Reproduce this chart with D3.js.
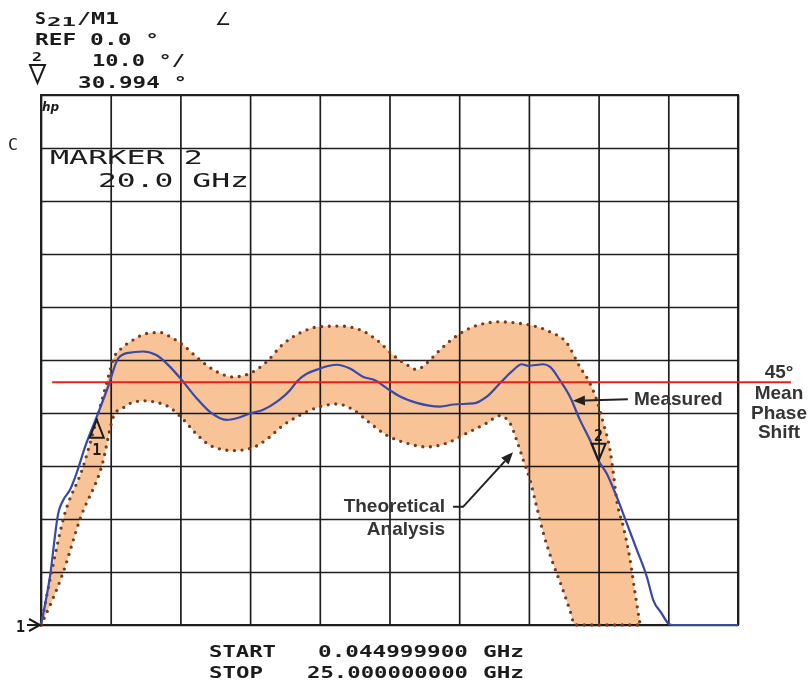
<!DOCTYPE html>
<html>
<head>
<meta charset="utf-8">
<script src="https://cdn.jsdelivr.net/npm/d3@7/dist/d3.min.js"></script>
<style>
  html, body { margin: 0; padding: 0; background: #fff; }
  svg { display: block; }
  .mono { font-family: "DejaVu Sans Mono", monospace; fill: #1c1c1c; }
  .note { font-family: "Liberation Sans", Arial, sans-serif; font-weight: bold; font-size: 19px; fill: #353535; }
</style>
</head>
<body>
<svg id="chart" width="811" height="687"></svg>
<script>
// ---------------- data ----------------
const xGridGHz = [0, 2.5, 5, 7.5, 10, 12.5, 15, 17.5, 20, 22.5, 25];
const yGridDeg = [0, 10, 20, 30, 40, 50, 60, 70, 80, 90, 100];

const measuredGHz = [0, 0.32, 0.62, 0.80, 1.04, 1.28, 1.58, 2.00, 2.41, 2.77,
  3.07, 3.67, 4.15, 4.63, 5.10, 5.58, 6.06, 6.66, 7.02, 7.50,
  7.97, 8.45, 8.93, 9.17, 10.01, 10.61, 11.08, 11.56, 11.98, 12.40,
  12.88, 13.48, 14.31, 14.79, 15.51, 15.99, 16.46, 16.94, 17.24, 17.48,
  18.02, 18.26, 18.61, 18.97, 19.33, 19.69, 20.00, 20.29, 20.65, 21.01,
  21.37, 21.73, 21.96, 22.26, 22.50, 22.63, 25.0];
const measuredDeg = [0, 9.1, 21.1, 23.6, 25.5, 28.7, 33.6, 39.3, 45.0, 50.3,
  51.3, 51.6, 50.9, 48.7, 45.9, 42.8, 40.2, 38.7, 39.0, 39.9,
  40.6, 42.1, 44.3, 45.9, 48.4, 49.1, 48.4, 46.8, 46.2, 44.7,
  43.1, 41.9, 41.2, 41.6, 41.8, 43.1, 45.6, 48.1, 49.2, 48.9,
  49.2, 48.7, 46.2, 43.1, 38.7, 34.9, 31.0, 28.6, 24.2, 19.2,
  14.2, 9.1, 4.7, 2.2, 0.3, 0, 0];

const theoryHighGHz = [0, 0.38, 0.80, 1.52, 2.06, 2.40, 2.62, 2.91, 3.31, 3.79,
  4.27, 4.63, 5.10, 5.70, 6.30, 6.90, 7.50, 8.10, 8.64, 9.29,
  10.01, 10.72, 11.44, 12.04, 12.64, 13.12, 13.48, 13.83, 14.31, 15.03,
  15.75, 16.46, 17.18, 17.54, 18.26, 18.86, 19.33, 19.69, 19.93, 20.17,
  20.41, 20.53, 20.65, 20.89, 21.13, 21.31, 21.49];
const theoryHighDeg = [0, 10, 20, 30, 40, 46.5, 50.5, 52.3, 53.8, 55.0,
  55.2, 54.4, 52.8, 50.0, 47.8, 46.8, 47.5, 49.7, 52.8, 55.1,
  56.3, 56.4, 55.7, 53.8, 50.9, 49.1, 48.2, 49.4, 51.9, 55.0,
  56.7, 57.2, 56.9, 56.6, 55.3, 53.2, 48.7, 45.6, 42.5, 38.1,
  33.0, 28.6, 23.6, 18.5, 12.3, 6.0, 0];

const theoryLowGHz = [0, 0.80, 1.40, 2.18, 2.66, 2.95, 3.19, 3.67, 4.15, 4.63,
  5.10, 5.58, 6.18, 6.90, 7.50, 8.21, 8.57, 9.29, 10.01, 10.61,
  11.20, 11.80, 12.40, 13.12, 13.83, 14.55, 15.27, 15.99, 16.46, 16.82,
  17.06, 17.30, 17.54, 17.78, 18.02, 18.32, 18.68, 18.97, 19.15, 21.49];
const theoryLowDeg = [0, 10, 20, 30, 40, 41.0, 41.8, 42.3, 42.0, 41.0,
  38.8, 36.0, 33.6, 32.9, 33.3, 35.5, 37.2, 39.6, 41.2, 41.7,
  40.6, 38.1, 35.8, 34.3, 33.6, 34.3, 36.2, 38.1, 39.5, 38.1,
  34.9, 31.1, 27.4, 22.3, 17.3, 12.3, 7.2, 2.8, 0, 0];

const meanPhaseDeg = 45.8;
const meanLineGHz = [0.4, 26.9];
const marker1GHz = 2.0;
const marker2GHz = 20.0;

const headerLines = ["REF 0.0 °", "10.0 °/", "30.994 °"];
const markerLines = ["MARKER 2", "20.0 GHz"];
const sweepLabels = ["START", "STOP"];
const sweepValues = ["0.044999900", "25.000000000"];
const sweepUnit = "GHz";
const sideLabel = ["45°", "Mean", "Phase", "Shift"];

// ---------------- drawing ----------------
const svg = d3.select("#chart");
const x = d3.scaleLinear().domain([0, 25]).range([41, 738]);
const y = d3.scaleLinear().domain([0, 100]).range([625, 95]);
const W = x.range()[1] - x.range()[0], Hh = y.range()[0] - y.range()[1];

// grid
const gx = svg.append("g").attr("transform", `translate(0,${y(0)})`)
  .call(d3.axisBottom(x).tickValues(xGridGHz).tickSize(-Hh).tickFormat(""));
const gy = svg.append("g").attr("transform", `translate(${x(0)},0)`)
  .call(d3.axisLeft(y).tickValues(yGridDeg).tickSize(-W).tickFormat(""));
[gx, gy].forEach(g => {
  g.select(".domain").remove();
  g.selectAll(".tick line").attr("stroke", "#1e1e1e").attr("stroke-width", 1.7);
});
svg.append("rect").attr("x", x(0)).attr("y", y(100)).attr("width", W).attr("height", Hh)
  .attr("fill", "none").attr("stroke", "#1e1e1e").attr("stroke-width", 2);

// theoretical band
const hi = theoryHighGHz.map((g, i) => [g, theoryHighDeg[i]]);
const lo = theoryLowGHz.map((g, i) => [g, theoryLowDeg[i]]);
const line = d3.line().x(d => x(d[0])).y(d => y(d[1])).curve(d3.curveMonotoneX);
const hiPath = line(hi);
const loRevPath = line(lo.slice().reverse());
svg.append("path")
  .attr("d", hiPath + "L" + loRevPath.slice(1) + "Z")
  .attr("fill", "#f8c497")
  .style("mix-blend-mode", "multiply");
[hiPath, line(lo)].forEach(p => svg.append("path").attr("d", p)
  .attr("fill", "none").attr("stroke", "#7a3a1c").attr("stroke-width", 3.3)
  .attr("stroke-linecap", "round").attr("stroke-dasharray", "0,7.6"));

// measured
const meas = measuredGHz.map((g, i) => [g, measuredDeg[i]]);
svg.append("path").attr("d", line(meas)).attr("fill", "none")
  .attr("stroke", "#3a48a6").attr("stroke-width", 2.2);

// mean phase line
svg.append("line").attr("x1", x(meanLineGHz[0])).attr("x2", x(meanLineGHz[1]))
  .attr("y1", y(meanPhaseDeg)).attr("y2", y(meanPhaseDeg))
  .attr("stroke", "#e8211c").attr("stroke-width", 2);

// markers
const measAt = g => {
  const i = d3.bisectLeft(measuredGHz, g);
  if (measuredGHz[i] === g) return measuredDeg[i];
  const t = (g - measuredGHz[i - 1]) / (measuredGHz[i] - measuredGHz[i - 1]);
  return measuredDeg[i - 1] + t * (measuredDeg[i] - measuredDeg[i - 1]);
};
const m1x = x(marker1GHz), m1y = y(measAt(marker1GHz)) + 3;
svg.append("path").attr("d", `M${m1x},${m1y} L${m1x + 7},${m1y + 18} L${m1x - 7},${m1y + 18} Z`)
  .attr("fill", "none").attr("stroke", "#1c1c1c").attr("stroke-width", 2);
svg.append("text").attr("class", "mono").attr("x", m1x).attr("y", m1y + 35)
  .attr("text-anchor", "middle").attr("font-size", 15).attr("font-weight", "bold").text("1");
const m2x = x(marker2GHz), m2y = y(measAt(marker2GHz));
svg.append("path").attr("d", `M${m2x},${m2y} L${m2x + 7},${m2y - 17} L${m2x - 7},${m2y - 17} Z`)
  .attr("fill", "none").attr("stroke", "#1c1c1c").attr("stroke-width", 2);
svg.append("text").attr("class", "mono").attr("x", m2x).attr("y", m2y - 20)
  .attr("text-anchor", "middle").attr("font-size", 15).attr("font-weight", "bold").text("2");

// reference marker "1>" at origin
svg.append("text").attr("class", "mono").attr("x", 16).attr("y", 632)
  .attr("font-size", 15).attr("font-weight", "bold").text("1");
svg.append("path").attr("d", `M27,${y(0)} L${x(0) - 1},${y(0)} M29,${y(0) - 6} L${x(0) - 1},${y(0)} L29,${y(0) + 6}`)
  .attr("fill", "none").attr("stroke", "#1c1c1c").attr("stroke-width", 2);

// header text
function monoText(str, px, py, size, len, extra) {
  const t = svg.append("text").attr("class", "mono").attr("x", px).attr("y", py)
    .attr("font-size", size).attr("textLength", len).attr("lengthAdjust", "spacingAndGlyphs").text(str);
  if (extra) t.attr("font-weight", extra);
  return t;
}
monoText("S", 35, 24, 16, 11, "bold");
monoText("21", 47, 26, 13, 29, "bold");
monoText("/M1", 77, 24, 16, 42, "bold");
svg.append("text").attr("x", 215).attr("y", 25).attr("font-family", "DejaVu Sans")
  .attr("font-size", 18).attr("fill", "#1c1c1c").text("∠");
monoText(headerLines[0], 35, 45, 15, 124, "bold");
monoText("2", 32, 61, 13, 10, "bold");
svg.append("path").attr("d", "M30,65 L45,65 L37.5,83 Z").attr("fill", "none")
  .attr("stroke", "#1c1c1c").attr("stroke-width", 2);
monoText(headerLines[1], 92, 66, 16, 93, "bold");
monoText(headerLines[2], 78, 88, 16, 109, "bold");

svg.append("text").attr("x", 42).attr("y", 111).attr("font-family", "DejaVu Sans")
  .attr("font-size", 12).attr("font-weight", "bold").attr("font-style", "italic")
  .attr("fill", "#1c1c1c").text("hp");
monoText("C", 8, 150, 16, 10);

monoText(markerLines[0], 50, 164, 19, 153);
monoText(markerLines[1], 98, 187, 19, 151);

// sweep labels
[657, 678].forEach((py, i) => {
  monoText(sweepLabels[i], 209, py, 15, i === 0 ? 67 : 54, "bold");
  monoText(sweepValues[i], i === 0 ? 318 : 307, py, 15, i === 0 ? 150 : 161, "bold");
  monoText(sweepUnit, 483, py, 15, 41, "bold");
});

// annotations
const sideY = [378, 399, 419, 438];
sideLabel.forEach((s, i) => svg.append("text").attr("class", "note")
  .attr("x", 779).attr("y", sideY[i]).attr("text-anchor", "middle").text(s));
svg.append("text").attr("class", "note").attr("x", 634).attr("y", 405).text("Measured");
svg.append("text").attr("class", "note").attr("x", 445).attr("y", 512).attr("text-anchor", "end").text("Theoretical");
svg.append("text").attr("class", "note").attr("x", 445).attr("y", 535).attr("text-anchor", "end").text("Analysis");

function arrow(ptsData) {
  const pts = ptsData.map(d => [x(d[0]), y(d[1])]);
  const n = pts.length;
  const [ex, ey] = pts[n - 1], [sx, sy] = pts[n - 2];
  const ang = Math.atan2(ey - sy, ex - sx);
  const L = 12, Wd = 5;
  const bx = ex - L * Math.cos(ang), by = ey - L * Math.sin(ang);
  svg.append("path").attr("d", d3.line()(pts.slice(0, n - 1).concat([[bx, by]])))
    .attr("fill", "none").attr("stroke", "#222").attr("stroke-width", 2);
  svg.append("path").attr("d",
    `M${ex},${ey} L${bx + Wd * Math.sin(ang)},${by - Wd * Math.cos(ang)} L${bx - Wd * Math.sin(ang)},${by + Wd * Math.cos(ang)} Z`)
    .attr("fill", "#222");
}
arrow([[21.05, 42.6], [19.08, 42.3]]);
arrow([[14.78, 22.3], [15.14, 22.3], [16.93, 32.6]]);
</script>
</body>
</html>
